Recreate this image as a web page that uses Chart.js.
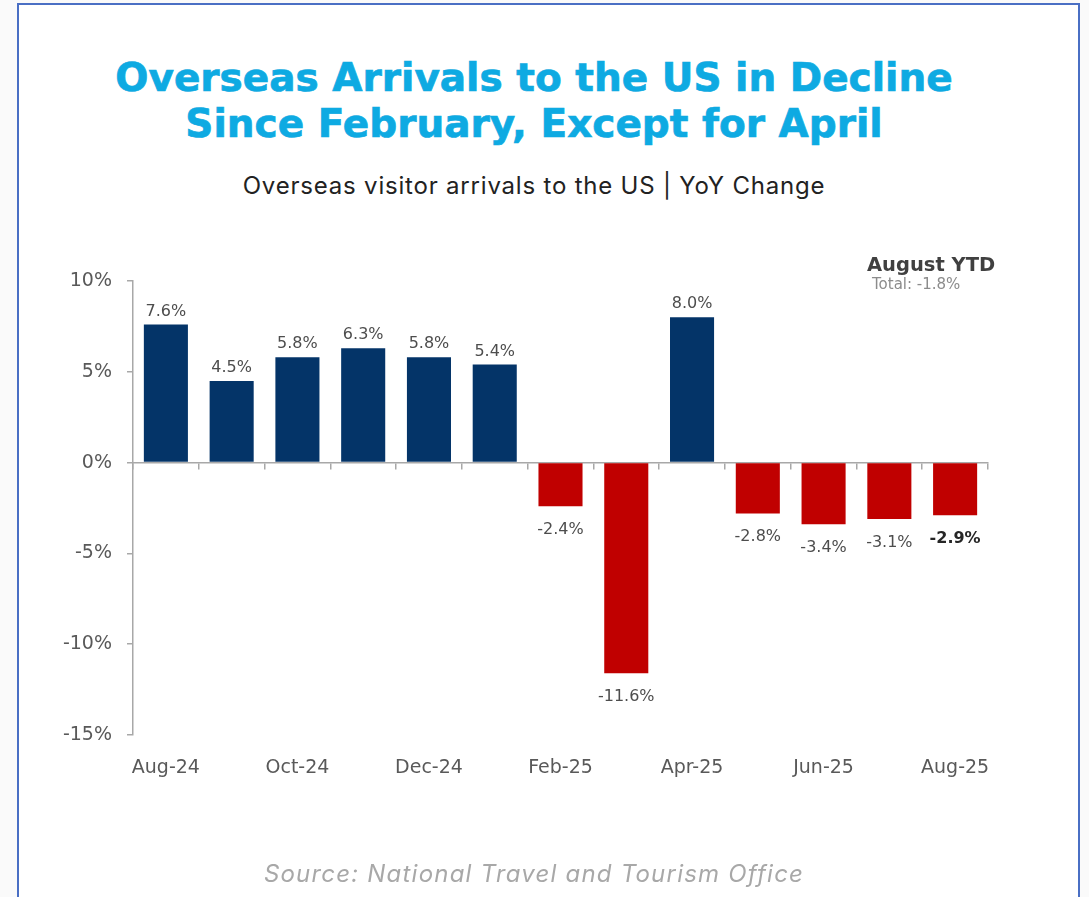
<!DOCTYPE html>
<html>
<head>
<meta charset="utf-8">
<script src="https://cdn.jsdelivr.net/npm/chart.js@4"></script>
<style>
  html, body { margin: 0; padding: 0; }
  body { width: 1089px; height: 897px; position: relative; overflow: hidden; background: #fafafa; font-family: Inter, "Open Sans", sans-serif; }
  .card { position: absolute; left: 17px; top: 3px; width: 1059px; height: 920px; background: #fff; border: 2px solid #4a6fc4; }
  .txt { position: absolute; left: 0; width: 1068px; text-align: center; white-space: nowrap; }
  .title { top: 55px; font-family: "DejaVu Sans", sans-serif; font-size: 39px; line-height: 46px; font-weight: bold; color: #0eaae2; -webkit-text-stroke: 0.7px #0eaae2; }
  .subtitle { top: 172px; font-size: 24px; line-height: 28px; letter-spacing: 0.8px; color: #222; }
  .source { top: 860px; font-size: 24px; line-height: 28px; letter-spacing: 1.2px; font-style: italic; color: #a8a8a8; }
  .ytd { position: absolute; left: 867px; top: 253px; font-family: "DejaVu Sans", sans-serif; font-weight: bold; font-size: 19.5px; line-height: 24px; color: #404040; }
  .ytd-total { position: absolute; left: 872px; top: 275px; font-family: "DejaVu Sans", sans-serif; font-size: 15px; line-height: 18px; color: #8c8c8c; }
  #chartWrap { position: absolute; left: 0; top: 0; width: 1089px; height: 897px; }
</style>
</head>
<body>
<div class="card"></div>
<div class="txt title">Overseas Arrivals to the US in Decline<br>Since February, Except for April</div>
<div class="txt subtitle">Overseas visitor arrivals to the US | YoY Change</div>
<div id="chartWrap"><canvas id="yoyChart"></canvas></div>
<div class="ytd">August YTD</div>
<div class="ytd-total">Total: -1.8%</div>
<div class="txt source">Source: National Travel and Tourism Office</div>

<script>
// monthly YoY change in overseas arrivals, %
const months = ['Aug-24', 'Sep-24', 'Oct-24', 'Nov-24', 'Dec-24', 'Jan-25', 'Feb-25',
                'Mar-25', 'Apr-25', 'May-25', 'Jun-25', 'Jul-25', 'Aug-25'];
const yoyChange = [7.6, 4.5, 5.8, 6.3, 5.8, 5.4, -2.4, -11.6, 8.0, -2.8, -3.4, -3.1, -2.9];
const yTicks = [-15, -10, -5, 0, 5, 10];

const NAVY = '#043468';
const RED = '#c00000';
const AXIS = '#a8a8a8';
const LABEL = '#595959';

// value labels above / below each bar
const barLabels = {
    id: 'barLabels',
    afterDatasetsDraw(chart) {
        const ctx = chart.ctx;
        const meta = chart.getDatasetMeta(0);
        ctx.save();
        ctx.textAlign = 'center';
        ctx.textBaseline = 'alphabetic';
        meta.data.forEach((bar, i) => {
            const v = yoyChange[i];
            const last = i === yoyChange.length - 1;
            ctx.font = (last ? 'bold ' : '') + '16px "DejaVu Sans"';
            ctx.fillStyle = last ? '#262626' : '#4d4d4d';
            const y = v >= 0 ? bar.y - 9 : bar.y + 28;
            ctx.fillText(v.toFixed(1) + '%', bar.x, y);
        });
        ctx.restore();
    }
};

try {
    const ctx = document.getElementById('yoyChart');
    window.__YOY_CHART = new Chart(ctx, {
        type: 'bar',
        data: {
            labels: months,
            datasets: [{
                data: yoyChange,
                backgroundColor: yoyChange.map(v => v >= 0 ? NAVY : RED),
                categoryPercentage: 1,
                barPercentage: 0.67,
                xAxisID: 'x',
                yAxisID: 'y'
            }]
        },
        options: {
            responsive: true,
            maintainAspectRatio: false,
            animation: false,
            layout: { padding: { left: 33, right: 101, top: 281, bottom: 102 } },
            plugins: {
                legend: { display: false },
                tooltip: { enabled: false }
            },
            scales: {
                x: {
                    type: 'category',
                    position: 'bottom',
                    grid: { display: false, drawTicks: false },
                    border: { display: false },
                    ticks: {
                        autoSkip: false,
                        maxRotation: 0,
                        padding: 22,
                        color: LABEL,
                        font: { family: 'DejaVu Sans', size: 19 },
                        callback: function(val, i) { return i % 2 === 0 ? this.getLabelForValue(val) : ''; }
                    },
                    afterFit: s => { s.height = 60; }
                },
                // zero line with the category tick marks
                xZero: {
                    type: 'category',
                    position: { y: 0 },
                    grid: { offset: true, drawOnChartArea: false, drawTicks: true, tickLength: 6, color: AXIS, lineWidth: 1.5 },
                    border: { display: true, color: AXIS, width: 1.5 },
                    ticks: { display: false }
                },
                y: {
                    min: -15,
                    max: 10,
                    afterBuildTicks: s => { s.ticks = yTicks.map(v => ({ value: v })); },
                    grid: { drawOnChartArea: false, drawTicks: true, tickLength: 6, color: AXIS, lineWidth: 1.5 },
                    border: { display: true, color: AXIS, width: 1.5 },
                    ticks: {
                        padding: 15,
                        color: LABEL,
                        font: { family: 'DejaVu Sans', size: 19 },
                        callback: v => v + '%'
                    },
                    afterFit: s => { s.width = 100; }
                }
            }
        },
        plugins: [barLabels]
    });
} catch (err) {
    console.error('chart init error', err);
}
</script>
</body>
</html>
